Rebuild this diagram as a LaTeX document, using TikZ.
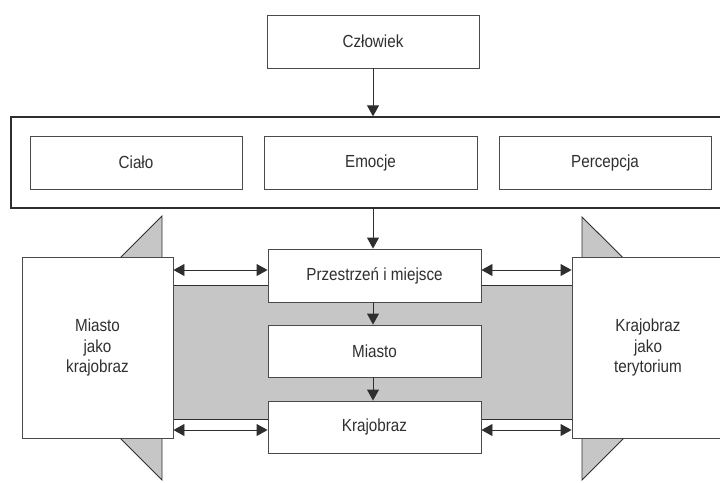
\documentclass[tikz,border=0pt]{standalone}
\usepackage{fontspec}
\setmainfont{Liberation Sans}[FakeStretch=0.87]
\usetikzlibrary{arrows.meta}
\definecolor{linec}{HTML}{4A4A4A}
\definecolor{darkc}{HTML}{2E2E2E}
\definecolor{bandc}{HTML}{C6C6C6}
\definecolor{textc}{HTML}{303030}
\tikzset{
  box/.style={draw=linec, line width=0.9pt, fill=white, inner sep=0pt, text=textc,
    font=\fontsize{17.5}{20.5}\selectfont, align=center},
  arr/.style={draw=linec, line width=0.9pt, -{Triangle[length=11pt,width=12pt]}, darkc},
  dbl/.style={draw=linec, line width=0.9pt, {Triangle[length=11pt,width=12pt]}-{Triangle[length=11pt,width=12pt]}, darkc},
  tri/.style={draw=darkc, line width=0.9pt, fill=bandc},
}
\begin{document}
\begin{tikzpicture}[x=1pt, y=-1pt]
\useasboundingbox (0,0) rectangle (720,482);
% side triangles
\draw[tri] (162,216) -- (162,480) -- (30,348) -- cycle;
\draw[tri] (582,217) -- (582,480) -- (714,348) -- cycle;
% gray band
\fill[bandc] (173,285) rectangle (572,419);
\draw[darkc, line width=0.9pt] (173,285) -- (572,285);
\draw[darkc, line width=0.9pt] (173,419) -- (572,419);
% top
\node[box, minimum width=212pt, minimum height=53pt] (cz) at (373,41.5) {Człowiek};
\node[box, draw=darkc, line width=1.3pt, minimum width=711pt, minimum height=91pt] (outer) at (366.5,162.5) {};
\node[box, minimum width=212pt, minimum height=53pt] (ci) at (136,162.5) {Ciało};
\node[box, minimum width=213pt, minimum height=53pt] (em) at (370.5,162.5) {Emocje};
\node[box, minimum width=212pt, minimum height=53pt] (pe) at (605,162.5) {Percepcja};
% middle column
\node[box, minimum width=213pt, minimum height=53pt] (pr) at (374.5,275.5) {Przestrzeń i miejsce};
\node[box, minimum width=213pt, minimum height=52pt] (mi) at (374.5,351) {Miasto};
\node[box, minimum width=213pt, minimum height=52pt] (kr) at (374.5,427) {Krajobraz};
% side boxes
\node[box, minimum width=151pt, minimum height=181pt] (lb) at (97.5,347.5) {Miasto\\jako\\krajobraz};
\node[box, minimum width=152pt, minimum height=181pt] (rb) at (648,347.5) {Krajobraz\\jako\\terytorium};
% vertical arrows
\draw[arr] (cz.south) -- (cz.south |- outer.north);
\draw[arr] (cz.south |- outer.south) -- (cz.south |- pr.north);
\draw[arr] (cz.south |- pr.south) -- (cz.south |- mi.north);
\draw[arr] (cz.south |- mi.south) -- (cz.south |- kr.north);
% horizontal double arrows
\draw[dbl] (lb.east |- 0,270) -- (pr.west |- 0,270);
\draw[dbl] (pr.east |- 0,270) -- (rb.west |- 0,270);
\draw[dbl] (lb.east |- 0,430) -- (kr.west |- 0,430);
\draw[dbl] (kr.east |- 0,430) -- (rb.west |- 0,430);
\end{tikzpicture}
\end{document}
